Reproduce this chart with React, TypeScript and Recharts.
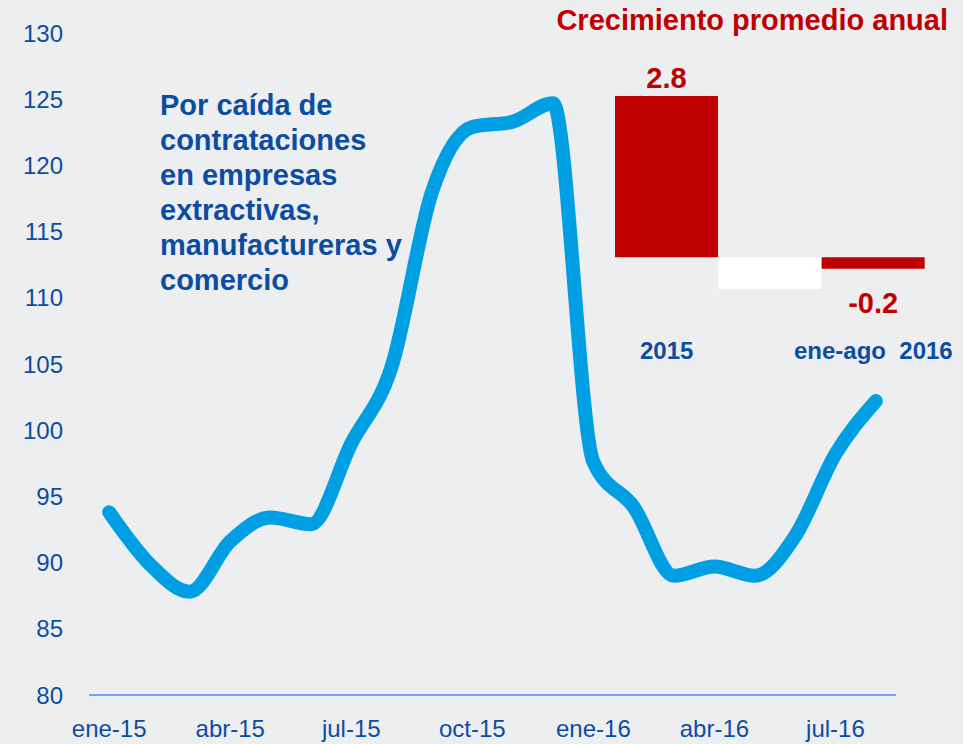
import { LineChart, Line, XAxis, YAxis, BarChart, Bar, Cell, LabelList } from 'recharts';

const months = [
  'ene-15', 'feb-15', 'mar-15', 'abr-15', 'may-15', 'jun-15', 'jul-15', 'ago-15', 'sep-15', 'oct-15',
  'nov-15', 'dic-15', 'ene-16', 'feb-16', 'mar-16', 'abr-16', 'may-16', 'jun-16', 'jul-16', 'ago-16',
];
const indexValues = [
  93.8, 89.9, 87.8, 91.6, 93.4, 92.9, 99.0, 104.8, 118.0, 122.9,
  123.3, 124.7, 97.6, 94.2, 89.0, 89.7, 89.0, 92.0, 98.2, 102.2,
];
const yTicks = [80, 85, 90, 95, 100, 105, 110, 115, 120, 125, 130];

const growthPeriods = ['2015', '', 'ene-ago\u00a0 2016'];
const growthValues = [2.8, -0.55, -0.2];
const growthLabels = ['2.8', '', '-0.2'];
const growthColors = ['#C00000', '#FFFFFF', '#C00000'];

const noteLines = [
  'Por caída de',
  'contrataciones',
  'en empresas',
  'extractivas,',
  'manufactureras y',
  'comercio',
];

const FONT = '"Liberation Sans", Arial, sans-serif';
const BLUE = '#0C4DA2';
const RED = '#C00000';

const lineData = months.map((m, i) => ({ month: m, value: indexValues[i] }));
const barData = growthPeriods.map((p, i) => ({
  period: p,
  value: growthValues[i],
  label: growthLabels[i],
}));

const GrowthLabel = (props: any) => {
  const { x, y, width, height, value } = props;
  if (!value) return null;
  const top = Math.min(y, y + height);
  const bottom = Math.max(y, y + height);
  const neg = String(value).startsWith('-');
  return (
    <text
      x={x + width / 2}
      y={neg ? bottom + 44 : top - 8}
      textAnchor="middle"
      fill={RED}
      fontSize={29}
      fontWeight="bold"
      fontFamily={FONT}
    >
      {value}
    </text>
  );
};

export default function App() {
  return (
    <div style={{ position: 'relative', width: 963, height: 744, background: '#ECEEF0', fontFamily: FONT }}>
      <style>{'body{margin:0}'}</style>
      <LineChart width={963} height={744} data={lineData} margin={{ top: 33, right: 67, left: 0, bottom: 0 }}>
        <XAxis
          dataKey="month"
          scale="band"
          interval={2}
          height={49}
          tickLine={false}
          tickSize={0}
          tickMargin={25}
          axisLine={{ stroke: '#72A6EE', strokeWidth: 2 }}
          tick={{ fill: BLUE, fontSize: 24, fontFamily: FONT }}
        />
        <YAxis
          domain={[80, 130]}
          ticks={yTicks}
          width={89}
          axisLine={false}
          tickLine={false}
          tickSize={0}
          tickMargin={26}
          tick={{ fill: BLUE, fontSize: 24, fontFamily: FONT }}
        />
        <Line
          type="monotone"
          dataKey="value"
          stroke="#009FE3"
          strokeWidth={14}
          strokeLinecap="round"
          dot={false}
          activeDot={false}
          isAnimationActive={false}
        />
      </LineChart>

      <div
        style={{
          position: 'absolute',
          left: 160,
          top: 88,
          color: BLUE,
          fontSize: 29,
          fontWeight: 'bold',
          lineHeight: '35px',
          whiteSpace: 'nowrap',
        }}
      >
        {noteLines.map((l) => (
          <div key={l}>{l}</div>
        ))}
      </div>

      <div
        style={{
          position: 'absolute',
          right: 15,
          top: 3,
          color: RED,
          fontSize: 29,
          fontWeight: 'bold',
          lineHeight: '35px',
          whiteSpace: 'nowrap',
        }}
      >
        Crecimiento promedio anual
      </div>

      <div style={{ position: 'absolute', left: 595, top: 50 }}>
        <BarChart
          width={370}
          height={328}
          data={barData}
          barCategoryGap={0}
          margin={{ top: 46, right: 40, left: 20, bottom: 0 }}
        >
          <XAxis
            dataKey="period"
            interval={0}
            height={40}
            axisLine={false}
            tickLine={false}
            tickSize={0}
            tickMargin={4}
            tick={{ fill: BLUE, fontSize: 24, fontWeight: 'bold', fontFamily: FONT }}
          />
          <YAxis hide domain={[-1.4, 2.8]} />
          <Bar dataKey="value" isAnimationActive={false}>
            {barData.map((d, i) => (
              <Cell key={i} fill={growthColors[i]} />
            ))}
            <LabelList dataKey="label" content={GrowthLabel} />
          </Bar>
        </BarChart>
      </div>
    </div>
  );
}
